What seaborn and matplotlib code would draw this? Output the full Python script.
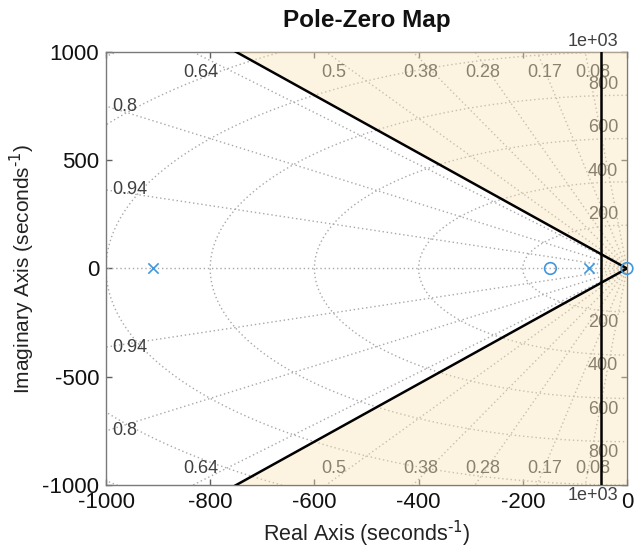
import numpy as np
import matplotlib
matplotlib.use("Agg")
import matplotlib.pyplot as plt
import pandas as pd
import seaborn as sns

# Poles and zeros of the system (real, imaginary parts)
pole_re = [-910.0, -72.0]
pole_im = [0.0, 0.0]
zero_re = [-147.0, 0.0]
zero_im = [0.0, 0.0]

# s-plane grid: damping ratios and natural frequencies
damping = [0.08, 0.17, 0.28, 0.38, 0.5, 0.64, 0.8, 0.94]
wn_circles = [200, 400, 600, 800, 1000, 1200, 1400]
wn_labels = [200, 400, 600, 800, 1000]

# design constraints: minimum damping ratio and maximum real part
zeta_min = 0.6
sigma_max = -50.0

xticks = [-1000, -800, -600, -400, -200, 0]
yticks = [-1000, -500, 0, 500, 1000]
xlim = (-1000, 0)
ylim = (-1000, 1000)

sns.set_theme(style="white")
plt.rcParams["font.family"] = ["Liberation Sans", "DejaVu Sans"]
plt.rcParams["axes.unicode_minus"] = False

fig = plt.figure(figsize=(6.44, 5.5), dpi=100)
ax = fig.add_axes([0.1646, 0.1182, 0.809, 0.7873])
ax.set_xlim(*xlim)
ax.set_ylim(*ylim)

grid_kw = dict(color="#a8a8a8", linestyle=(0, (1, 2)), linewidth=1.0, zorder=1)
lab_color = "#404040"
lab_size = 13

# constant-frequency circles
th = np.linspace(np.pi / 2, 3 * np.pi / 2, 400)
for w in wn_circles:
    ax.plot(w * np.cos(th), w * np.sin(th), **grid_kw)

# constant-damping rays
R = 3000
ax.plot([-R, 0], [0, 0], **grid_kw)
for z in damping:
    s = np.sqrt(1 - z ** 2)
    ax.plot([0, -z * R], [0, s * R], **grid_kw)
    ax.plot([0, -z * R], [0, -s * R], **grid_kw)
    # where the ray leaves the plot
    x_top = -1000 * z / s
    if x_top >= -1000:
        for ypos in (905, -925):
            ax.text(x_top + 15, ypos, f"{z:g}", ha="center", va="center",
                    fontsize=lab_size, color=lab_color, zorder=2)
    else:
        y_left = 1000 * s / z
        for sgn in (1, -1):
            ax.text(-988, sgn * y_left, f"{z:g}", ha="left", va="center",
                    fontsize=lab_size, color=lab_color, zorder=2)

for w in wn_labels:
    for sgn in (1, -1):
        ax.text(-17, sgn * (w + 50), f"{w:.3g}", ha="right", va="center",
                fontsize=lab_size, color=lab_color, zorder=2, clip_on=False)

# forbidden region (shaded)
k = np.sqrt(1 - zeta_min ** 2) / zeta_min
y_c = -sigma_max * k
x_edge = -1000 / k
region = np.array([
    [x_edge, 1000], [0, 1000], [0, -1000], [x_edge, -1000],
    [sigma_max, -y_c], [sigma_max, y_c]
])
ax.fill(region[:, 0], region[:, 1], color="#f9e4b2", alpha=0.4, lw=0, zorder=3)

# constraint boundaries
ax.plot([0, -R * zeta_min], [0, R * np.sqrt(1 - zeta_min ** 2)], color="black", lw=1.8, zorder=4)
ax.plot([0, -R * zeta_min], [0, -R * np.sqrt(1 - zeta_min ** 2)], color="black", lw=1.8, zorder=4)
ax.axvline(sigma_max, color="black", lw=1.8, zorder=4)

# poles and zeros
pz_color = "#3f97dd"
poles = pd.DataFrame({"re": pole_re, "im": pole_im})
zeros = pd.DataFrame({"re": zero_re, "im": zero_im})
sns.scatterplot(data=poles, x="re", y="im", marker="x", s=55, color=pz_color,
                linewidth=1.2, ax=ax, zorder=5, clip_on=False)
sns.scatterplot(data=zeros, x="re", y="im", marker="o", s=70, facecolor="none",
                edgecolor=pz_color, linewidth=1.2, ax=ax, zorder=5, clip_on=False)

ax.set_xticks(xticks)
ax.set_yticks(yticks)
ax.tick_params(direction="in", length=4, width=1, color="#606060",
               top=True, right=True, bottom=True, left=True,
               labelsize=16, labelcolor="#111111", pad=5)
for sp in ax.spines.values():
    sp.set_color("#7a7a7a")
    sp.set_linewidth(1.0)

ax.set_xlabel(r"Real Axis (seconds$^{\text{-1}}$)", fontsize=15.5, color="#222222", labelpad=4)
ax.set_ylabel(r"Imaginary Axis (seconds$^{\text{-1}}$)", fontsize=15, color="#222222", labelpad=4)
ax.set_title("Pole-Zero Map", fontsize=17.5, fontweight="bold", color="#111111", pad=18)

fig.savefig("out.png", dpi=100)
